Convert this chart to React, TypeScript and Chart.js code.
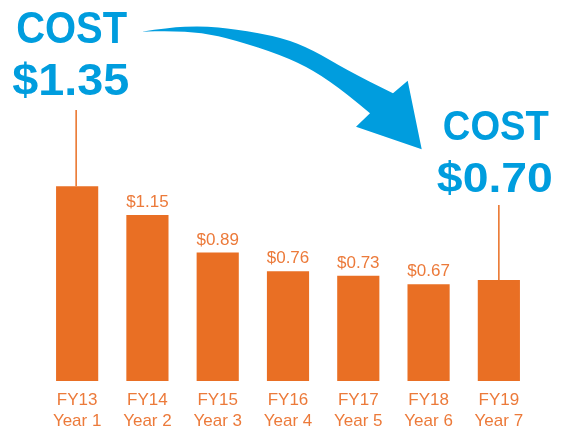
import React, { useEffect, useRef } from "react";
import { Chart, registerables } from "chart.js";

Chart.register(...registerables);

const fiscalYears = ["FY13", "FY14", "FY15", "FY16", "FY17", "FY18", "FY19"];
const yearLabels = ["Year 1", "Year 2", "Year 3", "Year 4", "Year 5", "Year 6", "Year 7"];
const costs = [1.35, 1.15, 0.89, 0.76, 0.73, 0.67, 0.7];
const showValueLabel = [false, true, true, true, true, true, false];
const calloutTitle = "COST";

const ORANGE = "#E96F24";
const ORANGE_TEXT = "#EC7A3A";
const BLUE = "#009DDE";
const FONT = '"Liberation Sans", Arial, sans-serif';

const fmt = (v: number) => `$${v.toFixed(2)}`;

function drawScaledText(ctx: CanvasRenderingContext2D, text: string, cx: number, baseY: number, targetW: number, size: number) {
  ctx.save();
  ctx.font = `bold ${size}px ${FONT}`;
  const w = ctx.measureText(text).width;
  ctx.translate(cx, baseY);
  ctx.scale(targetW / w, 1);
  ctx.textAlign = "center";
  ctx.textBaseline = "alphabetic";
  ctx.fillStyle = BLUE;
  ctx.fillText(text, 0, 0);
  ctx.restore();
}

function smoothPath(ctx: CanvasRenderingContext2D, pts: number[][], start: boolean) {
  if (start) ctx.moveTo(pts[0][0], pts[0][1]);
  else ctx.lineTo(pts[0][0], pts[0][1]);
  for (let i = 1; i < pts.length - 1; i++) {
    const mx = (pts[i][0] + pts[i + 1][0]) / 2;
    const my = (pts[i][1] + pts[i + 1][1]) / 2;
    ctx.quadraticCurveTo(pts[i][0], pts[i][1], mx, my);
  }
  const last = pts[pts.length - 1];
  ctx.lineTo(last[0], last[1]);
}

const annotationPlugin = {
  id: "annotations",
  afterDatasetsDraw(chart: any) {
    const ctx: CanvasRenderingContext2D = chart.ctx;
    const meta = chart.getDatasetMeta(0);
    const first = meta.data[0];
    const last = meta.data[meta.data.length - 1];

    // value labels
    ctx.save();
    ctx.font = `17px ${FONT}`;
    ctx.fillStyle = ORANGE_TEXT;
    ctx.textAlign = "center";
    ctx.textBaseline = "alphabetic";
    meta.data.forEach((bar: any, i: number) => {
      if (showValueLabel[i]) ctx.fillText(fmt(costs[i]), bar.x, bar.y - 8);
    });
    ctx.restore();

    // leader lines
    ctx.save();
    ctx.strokeStyle = ORANGE;
    ctx.lineWidth = 1.5;
    ctx.beginPath();
    ctx.moveTo(first.x - 1, 110);
    ctx.lineTo(first.x - 1, first.y);
    ctx.moveTo(last.x, 205);
    ctx.lineTo(last.x, last.y);
    ctx.stroke();
    ctx.restore();

    // arrow
    const topEdge = [
      [141.7, 31.7], [168, 27.7], [201.7, 26], [235, 29], [282, 37.5], [313, 50], [346.7, 70], [393, 93.3],
    ];
    const head = [[407.7, 80.7], [421.7, 149.3], [356, 126.7]];
    const bottomEdge = [
      [370, 113.3], [346.7, 93.3], [313, 70], [281, 55], [235, 40], [201.7, 32.3], [168, 31], [141.7, 31.7],
    ];
    ctx.save();
    ctx.fillStyle = BLUE;
    ctx.beginPath();
    smoothPath(ctx, topEdge, true);
    head.forEach((p) => ctx.lineTo(p[0], p[1]));
    smoothPath(ctx, bottomEdge, false);
    ctx.closePath();
    ctx.fill();
    ctx.restore();

    // callouts
    drawScaledText(ctx, calloutTitle, first.x - 5.5, 43, 111, 45);
    drawScaledText(ctx, fmt(costs[0]), first.x - 6.5, 95, 117, 45);
    drawScaledText(ctx, calloutTitle, last.x - 3, 140, 106, 43);
    drawScaledText(ctx, fmt(costs[costs.length - 1]), last.x - 4, 191.5, 116, 43);
  },
};

export default function App() {
  const ref = useRef<HTMLCanvasElement>(null);
  useEffect(() => {
    if (!ref.current) return;
    const chart = new Chart(ref.current, {
      type: "bar",
      data: {
        labels: fiscalYears.map((fy, i) => [fy, yearLabels[i]]),
        datasets: [
          {
            data: costs,
            backgroundColor: ORANGE,
            borderWidth: 0,
            barPercentage: 0.6,
            categoryPercentage: 1.0,
          },
        ],
      },
      options: {
        animation: false,
        responsive: false,
        maintainAspectRatio: false,
        layout: { padding: { left: 42, right: 37, top: 0, bottom: -3 } },
        plugins: { legend: { display: false }, tooltip: { enabled: false } },
        scales: {
          x: {
            grid: { display: false },
            border: { display: false },
            ticks: {
              color: ORANGE_TEXT,
              font: { family: FONT, size: 17, lineHeight: 1.235 },
              padding: 1,
              maxRotation: 0,
            },
          },
          y: {
            display: false,
            min: 0,
            max: 2.64,
          },
        },
      },
      plugins: [annotationPlugin],
    });
    return () => chart.destroy();
  }, []);
  return (
    <div style={{ position: "fixed", left: 0, top: 0, width: 571, height: 430, background: "#fff" }}>
      <canvas ref={ref} width={571} height={430} style={{ width: 571, height: 430 }} />
    </div>
  );
}
